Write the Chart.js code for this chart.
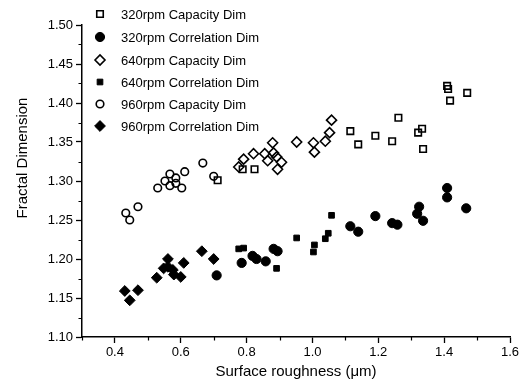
<!DOCTYPE html>
<html>
<head>
<meta charset="utf-8">
<script src="https://cdn.jsdelivr.net/npm/chart.js@4/dist/chart.umd.min.js"></script>
<style>
  html, body { margin: 0; padding: 0; background: #fff; }
  #wrap { width: 525px; height: 390px; position: relative; }
</style>
</head>
<body>
<div id="wrap"><canvas id="c" width="525" height="390"></canvas></div>
<script>
// ---- Data ----
const seriesNames = [
  "320rpm Capacity Dim",
  "320rpm Correlation Dim",
  "640rpm Capacity Dim",
  "640rpm Correlation Dim",
  "960rpm Capacity Dim",
  "960rpm Correlation Dim"
];
const cap320 = [[0.712,1.301],[0.788,1.315],[0.824,1.315],[1.115,1.364],[1.139,1.347],[1.191,1.358],[1.242,1.351],[1.261,1.381],[1.321,1.362],[1.333,1.367],[1.336,1.341],[1.409,1.422],[1.412,1.418],[1.418,1.403],[1.470,1.413]];
const corr320 = [[0.709,1.179],[0.785,1.195],[0.818,1.204],[0.830,1.200],[0.858,1.197],[0.882,1.213],[0.894,1.210],[1.115,1.242],[1.139,1.235],[1.191,1.255],[1.242,1.246],[1.258,1.244],[1.318,1.258],[1.324,1.267],[1.336,1.249],[1.409,1.291],[1.409,1.279],[1.467,1.265]];
const cap640 = [[0.776,1.318],[0.791,1.328],[0.821,1.335],[0.855,1.335],[0.864,1.326],[0.879,1.349],[0.882,1.336],[0.891,1.331],[0.906,1.324],[0.894,1.315],[0.952,1.350],[1.003,1.349],[1.006,1.337],[1.039,1.351],[1.052,1.362],[1.058,1.378]];
const corr640 = [[0.776,1.213],[0.791,1.214],[0.891,1.188],[0.952,1.227],[1.003,1.209],[1.006,1.218],[1.039,1.226],[1.048,1.233],[1.058,1.256]];
const cap960 = [[0.433,1.259],[0.445,1.250],[0.470,1.267],[0.530,1.291],[0.552,1.300],[0.567,1.309],[0.567,1.294],[0.585,1.304],[0.585,1.297],[0.603,1.291],[0.612,1.312],[0.667,1.323],[0.700,1.306]];
const corr960 = [[0.430,1.159],[0.470,1.160],[0.445,1.147],[0.527,1.176],[0.548,1.188],[0.561,1.200],[0.561,1.190],[0.576,1.186],[0.579,1.180],[0.600,1.177],[0.609,1.195],[0.664,1.210],[0.700,1.200]];

const xTicks = [0.4, 0.6, 0.8, 1.0, 1.2, 1.4, 1.6];
const xMinorTicks = [0.3, 0.5, 0.7, 0.9, 1.1, 1.3, 1.5];
const yTicks = [1.10, 1.15, 1.20, 1.25, 1.30, 1.35, 1.40, 1.45, 1.50];
const yMinorTicks = [1.125, 1.175, 1.225, 1.275, 1.325, 1.375, 1.425, 1.475];

const xTitle = "Surface roughness (\u03bcm)";
const yTitle = "Fractal Dimension";

// ---- Styles ----
const FONT = "'Liberation Sans', Arial, Helvetica, sans-serif";
const styles = [
  { pointStyle: 'rect',    radius: 4.6, bg: 'rgba(0,0,0,0)', bw: 1.6 },
  { pointStyle: 'circle',  radius: 4.6, bg: '#000', bw: 1 },
  { pointStyle: 'rectRot', radius: 5.0, bg: 'rgba(0,0,0,0)', bw: 1.6 },
  { pointStyle: 'rect',    radius: 4.0, bg: '#000', bw: 1 },
  { pointStyle: 'circle',  radius: 3.8, bg: 'rgba(0,0,0,0)', bw: 1.6 },
  { pointStyle: 'rectRot', radius: 5.4, bg: '#000', bw: 1 }
];
const seriesData = [cap320, corr320, cap640, corr640, cap960, corr960];

const datasets = seriesData.map((arr, i) => ({
  label: seriesNames[i],
  data: arr.map(p => ({ x: p[0], y: p[1] })),
  pointStyle: styles[i].pointStyle,
  pointRadius: styles[i].radius,
  pointHoverRadius: styles[i].radius,
  pointBackgroundColor: styles[i].bg,
  pointBorderColor: '#000',
  pointBorderWidth: styles[i].bw,
  backgroundColor: styles[i].bg,
  borderColor: '#000',
  showLine: false
}));

function drawMarker(ctx, st, x, y) {
  const opts = {
    pointStyle: st.pointStyle, radius: st.radius, rotation: 0,
    borderWidth: st.bw
  };
  ctx.save();
  ctx.fillStyle = st.bg;
  ctx.strokeStyle = '#000';
  ctx.lineWidth = st.bw;
  if (Chart.helpers && Chart.helpers.drawPoint) {
    Chart.helpers.drawPoint(ctx, opts, x, y);
  }
  ctx.restore();
}

const extras = {
  id: 'extras',
  afterDraw(chart) {
    const ctx = chart.ctx;
    const xs = chart.scales.x, ys = chart.scales.y;
    const area = chart.chartArea;
    ctx.save();
    // minor ticks
    ctx.strokeStyle = '#000';
    ctx.lineWidth = 1.2;
    ctx.beginPath();
    xMinorTicks.forEach(v => {
      const px = Math.round(xs.getPixelForValue(v)) + 0.5;
      ctx.moveTo(px, area.bottom);
      ctx.lineTo(px, area.bottom + 3.5);
    });
    yMinorTicks.forEach(v => {
      const py = Math.round(ys.getPixelForValue(v)) + 0.5;
      ctx.moveTo(area.left, py);
      ctx.lineTo(area.left - 3.5, py);
    });
    ctx.stroke();

    // axis titles
    ctx.fillStyle = '#000';
    ctx.font = "15px " + FONT;
    ctx.textAlign = 'center';
    ctx.textBaseline = 'middle';
    ctx.fillText(xTitle, (area.left + area.right) / 2, 372);
    ctx.save();
    ctx.translate(23, 158);
    ctx.rotate(-Math.PI / 2);
    ctx.fillText(yTitle, 0, 0);
    ctx.restore();

    // legend
    ctx.font = "13px " + FONT;
    ctx.textAlign = 'left';
    ctx.textBaseline = 'middle';
    const rowY = [14, 37, 60, 82, 104, 126];
    seriesNames.forEach((name, i) => {
      drawMarker(ctx, styles[i], 100, rowY[i]);
      ctx.fillStyle = '#000';
      ctx.fillText(name, 121, rowY[i] + 1);
    });
    ctx.restore();
  }
};

new Chart(document.getElementById('c'), {
  type: 'scatter',
  data: { datasets },
  options: {
    responsive: false,
    animation: false,
    events: [],
    layout: { padding: { top: 25, right: 15, left: 0, bottom: 0 } },
    plugins: {
      legend: { display: false },
      tooltip: { enabled: false },
      title: { display: false }
    },
    scales: {
      x: {
        type: 'linear',
        min: 0.3, max: 1.6,
        afterBuildTicks: s => { s.ticks = xTicks.map(v => ({ value: v })); },
        afterFit: s => { s.height = 53; },
        ticks: {
          color: '#000',
          font: { family: FONT, size: 13 },
          padding: 2,
          maxRotation: 0,
          autoSkip: false,
          callback: v => Number(v).toFixed(1)
        },
        grid: {
          display: true, drawOnChartArea: false, drawTicks: true,
          tickLength: 6, tickColor: '#000', tickWidth: 1.3
        },
        border: { display: true, color: '#000', width: 1.5 },
        title: { display: false }
      },
      y: {
        type: 'linear',
        min: 1.10, max: 1.50,
        afterBuildTicks: s => { s.ticks = yTicks.map(v => ({ value: v })); },
        afterFit: s => { s.width = 82; },
        ticks: {
          color: '#000',
          font: { family: FONT, size: 13 },
          padding: 3,
          autoSkip: false,
          callback: v => Number(v).toFixed(2)
        },
        grid: {
          display: true, drawOnChartArea: false, drawTicks: true,
          tickLength: 6, tickColor: '#000', tickWidth: 1.3
        },
        border: { display: true, color: '#000', width: 1.5 },
        title: { display: false }
      }
    }
  },
  plugins: [extras]
});
</script>
</body>
</html>
